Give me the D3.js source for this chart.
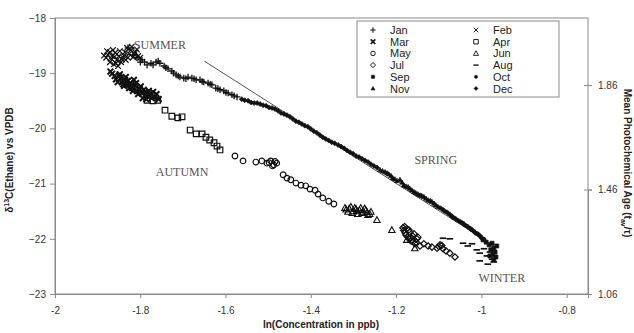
<!DOCTYPE html>
<html>
<head>
<meta charset="utf-8">
<script src="https://cdn.jsdelivr.net/npm/d3@7"></script>
<style>
  html, body { margin: 0; padding: 0; background: #fff; }
  svg { display: block; }
</style>
</head>
<body>
<svg id="chart" width="634" height="333"></svg>
<script>
// Monthly ethane samples: [ln(concentration in ppb), δ13C vs VPDB]
const jan = [[-1.829,-18.54],[-1.817,-18.67],[-1.808,-18.72],[-1.796,-18.76],[-1.784,-18.85],[-1.775,-18.82],[-1.763,-18.80],[-1.754,-18.82],[-1.744,-18.87],[-1.735,-18.92],[-1.726,-18.96],[-1.716,-19.03],[-1.707,-19.07],[-1.698,-19.09],[-1.688,-19.07],[-1.679,-19.09],[-1.669,-19.12],[-1.660,-19.12],[-1.651,-19.16],[-1.641,-19.18],[-1.632,-19.21],[-1.623,-19.27],[-1.613,-19.30],[-1.604,-19.32],[-1.594,-19.36],[-1.585,-19.39],[-1.573,-19.43],
  [-1.800,-18.80],[-1.790,-18.80],[-1.770,-18.85],[-1.758,-18.78],[-1.740,-18.90],[-1.722,-19.00],[-1.711,-19.05],[-1.693,-19.10],[-1.674,-19.10],[-1.655,-19.15],[-1.636,-19.20],[-1.618,-19.28],[-1.599,-19.35],[-1.580,-19.41]];
const feb = [[-1.880,-18.72],[-1.876,-18.67],[-1.871,-18.80],[-1.866,-18.69],[-1.862,-18.84],[-1.859,-18.63],[-1.855,-18.76],[-1.850,-18.69],[-1.845,-18.80],[-1.841,-18.71],[-1.836,-18.62],[-1.831,-18.54],[-1.826,-18.65],[-1.822,-18.58],[-1.817,-18.71],[-1.812,-18.62],[-1.871,-18.62],[-1.852,-18.87],[-1.834,-18.76],[-1.805,-18.69],
  [-1.878,-18.60],[-1.868,-18.74],[-1.860,-18.70],[-1.857,-18.82],[-1.848,-18.60],[-1.843,-18.75],[-1.838,-18.68],[-1.829,-18.72],[-1.820,-18.52],[-1.814,-18.66],[-1.808,-18.57],[-1.800,-18.72],[-1.885,-18.68],[-1.864,-18.58]];
const mar = [[-1.866,-19.01],[-1.857,-19.11],[-1.850,-19.05],[-1.843,-19.16],[-1.836,-19.12],[-1.831,-19.21],[-1.824,-19.18],[-1.819,-19.27],[-1.812,-19.23],[-1.808,-19.32],[-1.801,-19.29],[-1.796,-19.36],[-1.789,-19.34],[-1.784,-19.41],[-1.777,-19.38],[-1.770,-19.34],[-1.766,-19.43],[-1.838,-19.23],[-1.815,-19.12],[-1.794,-19.45],
  [-1.870,-18.97],[-1.860,-19.05],[-1.853,-19.16],[-1.846,-19.09],[-1.840,-19.20],[-1.829,-19.14],[-1.826,-19.27],[-1.821,-19.22],[-1.810,-19.18],[-1.805,-19.38],[-1.799,-19.24],[-1.792,-19.30],[-1.786,-19.47],[-1.780,-19.32],[-1.773,-19.45],[-1.762,-19.38],[-1.757,-19.47],[-1.848,-19.02],[-1.817,-19.32],[-1.834,-19.07]];
const apr = [[-1.784,-19.49],[-1.770,-19.50],[-1.759,-19.49],[-1.742,-19.67],[-1.726,-19.78],[-1.712,-19.81],[-1.702,-19.79],[-1.683,-20.03],[-1.669,-20.10],[-1.655,-20.10],[-1.646,-20.16],[-1.637,-20.21],[-1.627,-20.26],[-1.620,-20.32],[-1.613,-20.39]];
const may = [[-1.578,-20.50],[-1.559,-20.59],[-1.529,-20.61],[-1.515,-20.59],[-1.503,-20.63],[-1.494,-20.59],[-1.487,-20.66],[-1.480,-20.63],[-1.465,-20.84],[-1.456,-20.90],[-1.447,-20.93],[-1.435,-20.99],[-1.423,-21.03],[-1.412,-21.04],[-1.402,-21.10],[-1.390,-21.12],[-1.383,-21.19],[-1.372,-21.26],[-1.358,-21.32],[-1.346,-21.37],
  [-1.498,-20.62],[-1.484,-20.60],[-1.490,-20.68]];
const jun = [[-1.320,-21.44],[-1.313,-21.51],[-1.306,-21.42],[-1.301,-21.50],[-1.294,-21.46],[-1.290,-21.55],[-1.283,-21.44],[-1.278,-21.51],[-1.271,-21.48],[-1.266,-21.57],[-1.259,-21.51],[-1.245,-21.66],[-1.210,-21.84],[-1.175,-22.02],[-1.156,-22.17],
  [-1.317,-21.47],[-1.310,-21.45],[-1.303,-21.53],[-1.297,-21.44],[-1.292,-21.50],[-1.286,-21.48],[-1.280,-21.53],[-1.274,-21.45],[-1.268,-21.52],[-1.262,-21.55]];
const jul = [[-1.184,-21.80],[-1.179,-21.89],[-1.175,-21.82],[-1.172,-21.97],[-1.168,-21.88],[-1.165,-22.04],[-1.161,-21.95],[-1.156,-22.09],[-1.151,-22.00],[-1.144,-22.13],[-1.135,-22.09],[-1.125,-22.13],[-1.116,-22.15],[-1.104,-22.17],[-1.097,-22.11],[-1.090,-22.18],[-1.083,-22.22],[-1.074,-22.26],[-1.062,-22.33],
  [-1.182,-21.85],[-1.177,-21.93],[-1.170,-21.84],[-1.166,-21.99],[-1.160,-22.05],[-1.158,-21.91],[-1.153,-22.06],[-1.149,-21.97],[-1.170,-22.00],[-1.180,-21.78],[-1.100,-22.14],[-1.093,-22.12]];
const aug = [[-1.090,-21.99],[-1.074,-22.00],[-1.043,-22.08],[-1.032,-22.13],[-1.022,-22.09],[-1.011,-22.20],[-1.004,-22.26],[-0.994,-22.18],[-0.987,-22.31],[-0.980,-22.24],[-0.975,-22.37],[-1.004,-22.40],[-0.971,-22.42],[-0.985,-22.46]];
const sep = [[-0.989,-22.06],[-0.982,-22.11],[-0.975,-22.08],[-0.971,-22.17],[-0.978,-22.20],[-0.968,-22.24],[-0.973,-22.29],[-0.966,-22.33],[-0.980,-22.31],[-0.971,-22.38],[-0.964,-22.13],[-0.996,-22.02]];
const oct = [[-1.097,-21.44],[-1.086,-21.50],[-1.076,-21.55],[-1.067,-21.61],[-1.057,-21.66],[-1.048,-21.70],[-1.039,-21.75],[-1.029,-21.80],[-1.022,-21.84],[-1.013,-21.90],[-1.006,-21.93],[-0.999,-21.99],
  [-1.091,-21.47],[-1.081,-21.52],[-1.071,-21.58],[-1.062,-21.63],[-1.052,-21.68],[-1.043,-21.72],[-1.034,-21.77],[-1.025,-21.82],[-1.017,-21.87],[-1.009,-21.91],[-1.002,-21.96],[-0.994,-22.01]];
const nov = [[-1.238,-20.75],[-1.226,-20.79],[-1.217,-20.83],[-1.208,-20.90],[-1.198,-20.95],[-1.191,-20.93],[-1.182,-21.03],[-1.172,-21.06],[-1.163,-21.12],[-1.154,-21.17],[-1.144,-21.21],[-1.135,-21.24],[-1.125,-21.30],[-1.116,-21.33],[-1.107,-21.39],
  [-1.232,-20.77],[-1.221,-20.81],[-1.212,-20.86],[-1.203,-20.92],[-1.186,-20.98],[-1.177,-21.05],[-1.168,-21.09],[-1.158,-21.15],[-1.149,-21.19],[-1.140,-21.22],[-1.130,-21.27],[-1.120,-21.31],[-1.111,-21.36],[-1.102,-21.42]];
const dec = [[-1.562,-19.47],[-1.547,-19.50],[-1.533,-19.54],[-1.519,-19.56],[-1.505,-19.59],[-1.491,-19.63],[-1.477,-19.68],[-1.463,-19.74],[-1.449,-19.79],[-1.435,-19.87],[-1.421,-19.92],[-1.407,-19.97],[-1.393,-20.05],[-1.379,-20.12],[-1.365,-20.19],[-1.351,-20.25],[-1.336,-20.30],[-1.322,-20.36],[-1.308,-20.43],[-1.294,-20.50],[-1.280,-20.55],[-1.266,-20.61],[-1.252,-20.68],
  [-1.555,-19.49],[-1.540,-19.53],[-1.526,-19.54],[-1.512,-19.58],[-1.498,-19.62],[-1.484,-19.65],[-1.470,-19.72],[-1.456,-19.76],[-1.442,-19.83],[-1.428,-19.89],[-1.414,-19.95],[-1.400,-20.01],[-1.386,-20.08],[-1.372,-20.16],[-1.358,-20.22],[-1.344,-20.27],[-1.329,-20.33],[-1.315,-20.40],[-1.301,-20.46],[-1.287,-20.52],[-1.273,-20.58],[-1.259,-20.65],[-1.245,-20.71]];

// Reference line (end points)
const refLineX = [-1.65, -0.97];
const refLineY = [-18.78, -22.13];

// Axis ticks
const xTicks = [-2, -1.8, -1.6, -1.4, -1.2, -1, -0.8];
const yTicks = [-23, -22, -21, -20, -19, -18];
const ageTicks = [1.06, 1.46, 1.86];

const seasonNames = ["SUMMER", "AUTUMN", "SPRING", "WINTER"];
const seasonPos = [[-1.754, -18.56], [-1.702, -20.86], [-1.107, -20.65], [-0.952, -22.78]];

const monthNames = ["Jan","Feb","Mar","Apr","May","Jun","Jul","Aug","Sep","Oct","Nov","Dec"];
const monthData = [jan, feb, mar, apr, may, jun, jul, aug, sep, oct, nov, dec];

// Marker glyphs: [path, filled, strokeWidth]
const glyphs = {
  Jan: ["M-3.3,0H3.3M0,-3.3V3.3", false, 1.3],
  Feb: ["M-2.8,-2.8L2.8,2.8M-2.8,2.8L2.8,-2.8", false, 1.2],
  Mar: ["M-2.9,-2.9L2.9,2.9M-2.9,2.9L2.9,-2.9", false, 2],
  Apr: ["M-2.8,-2.8H2.8V2.8H-2.8Z", false, 1.2],
  May: ["M2.8,0A2.8,2.8 0 1,1 -2.8,0A2.8,2.8 0 1,1 2.8,0Z", false, 1.2],
  Jun: ["M0,-3.3L3.2,2.5H-3.2Z", false, 1.1],
  Jul: ["M0,-3.2L3.2,0L0,3.2L-3.2,0Z", false, 1.2],
  Aug: ["M-3.3,0H3.3", false, 1.7],
  Sep: ["M-2,-2H2V2H-2Z", true, 0.7],
  Oct: ["M2,0A2,2 0 1,1 -2,0A2,2 0 1,1 2,0Z", true, 0.7],
  Nov: ["M0,-2.5L2.5,1.8H-2.5Z", true, 0.7],
  Dec: ["M0,-2.5L2.5,0L0,2.5L-2.5,0Z", true, 0.7]
};

const svg = d3.select("#chart");
const W = 634, H = 333;
const m = { left: 55, right: 46, top: 18, bottom: 39 };
const pw = W - m.left - m.right, ph = H - m.top - m.bottom;

const x = d3.scaleLinear().domain([-2, -0.75]).range([m.left, m.left + pw]);
const y = d3.scaleLinear().domain([-23, -18]).range([m.top + ph, m.top]);
// age axis: labelled ticks 0.4 apart, 104.5px apart, 1.06 at the bottom of the frame
const ageScale = d3.scaleLinear().domain([1.06, 1.46]).range([y(-23), y(-23) - 104.5]);

const axisColor = "#8a8a8a";
const labelColor = "#333";

// plot frame
svg.append("rect")
  .attr("x", m.left).attr("y", m.top).attr("width", pw).attr("height", ph)
  .attr("fill", "none").attr("stroke", axisColor).attr("stroke-width", 1);

// left axis
const gy = svg.append("g").attr("transform", `translate(${m.left},0)`)
  .call(d3.axisLeft(y).tickValues(yTicks).tickSize(5).tickPadding(4).tickFormat(d3.format("d")));
// bottom axis
const gx = svg.append("g").attr("transform", `translate(0,${m.top + ph})`)
  .call(d3.axisBottom(x).tickValues(xTicks).tickSize(4).tickPadding(9).tickFormat(d => String(+d.toFixed(1))));
// right axis (age)
const gr = svg.append("g").attr("transform", `translate(${m.left + pw},0)`)
  .call(d3.axisRight(ageScale).tickValues(ageTicks).tickSize(4).tickPadding(6).tickFormat(d3.format(".2f")));
gr.selectAll(".tick line").attr("x1", -4);

[gx, gy, gr].forEach(g => {
  g.select(".domain").attr("stroke", axisColor);
  g.selectAll(".tick line").attr("stroke", axisColor);
  g.selectAll(".tick text").attr("fill", labelColor)
    .style("font-family", "Liberation Sans, Arial, sans-serif").style("font-size", "10px");
});

// reference line
svg.append("line")
  .attr("x1", x(refLineX[0])).attr("y1", y(refLineY[0]))
  .attr("x2", x(refLineX[1])).attr("y2", y(refLineY[1]))
  .attr("stroke", "#555").attr("stroke-width", 1);

// monthly markers
monthNames.forEach((name, i) => {
  const [path, filled, sw] = glyphs[name];
  svg.append("g").selectAll("path").data(monthData[i]).join("path")
    .attr("d", path)
    .attr("transform", d => `translate(${x(d[0])},${y(d[1])})`)
    .attr("fill", filled ? "#111" : "none")
    .attr("stroke", "#111")
    .attr("stroke-width", sw);
});

// season labels
svg.append("g").selectAll("text").data(seasonNames).join("text")
  .attr("x", (d, i) => x(seasonPos[i][0]))
  .attr("y", (d, i) => y(seasonPos[i][1]))
  .attr("text-anchor", "middle")
  .attr("fill", "#555")
  .style("font-family", "Liberation Serif, Times New Roman, serif")
  .style("font-size", "12px")
  .text(d => d);

// legend
const lg = svg.append("g");
lg.append("rect").attr("x", 357).attr("y", 21).attr("width", 202).attr("height", 76)
  .attr("fill", "#fff").attr("stroke", axisColor).attr("stroke-width", 1);
monthNames.forEach((name, i) => {
  const col = i % 2, row = Math.floor(i / 2);
  const sx = col === 0 ? 373 : 476;
  const sy = 30 + row * 11.7;
  const [path, filled, sw] = glyphs[name];
  lg.append("path").attr("d", path)
    .attr("transform", `translate(${sx},${sy}) scale(0.8)`)
    .attr("fill", filled ? "#111" : "none").attr("stroke", "#111").attr("stroke-width", sw);
  lg.append("text").attr("x", sx + 17).attr("y", sy + 4)
    .attr("fill", "#222")
    .style("font-family", "Liberation Sans, Arial, sans-serif").style("font-size", "11px")
    .text(name);
});

// axis titles
svg.append("text")
  .attr("x", 321).attr("y", 328)
  .attr("text-anchor", "middle").attr("fill", "#222")
  .style("font-family", "Liberation Sans, Arial, sans-serif").style("font-size", "10px").style("font-weight", "bold")
  .text("ln(Concentration in ppb)");

const yl = svg.append("text")
  .attr("transform", `translate(13,160) rotate(-90)`)
  .attr("text-anchor", "middle").attr("fill", "#222")
  .style("font-family", "Liberation Sans, Arial, sans-serif").style("font-size", "10px").style("font-weight", "bold");
yl.append("tspan").text("δ");
yl.append("tspan").attr("dy", -4).style("font-size", "7px").text("13");
yl.append("tspan").attr("dy", 4).text("C(Ethane) vs VPDB");

const rl = svg.append("text")
  .attr("transform", `translate(624,163) rotate(90)`)
  .attr("text-anchor", "middle").attr("fill", "#222")
  .style("font-family", "Liberation Sans, Arial, sans-serif").style("font-size", "10px").style("font-weight", "bold");
rl.append("tspan").text("Mean Photochemical Age (t");
rl.append("tspan").attr("dy", 3).style("font-size", "7px").text("av");
rl.append("tspan").attr("dy", -3).text("/τ)");
</script>
</body>
</html>
